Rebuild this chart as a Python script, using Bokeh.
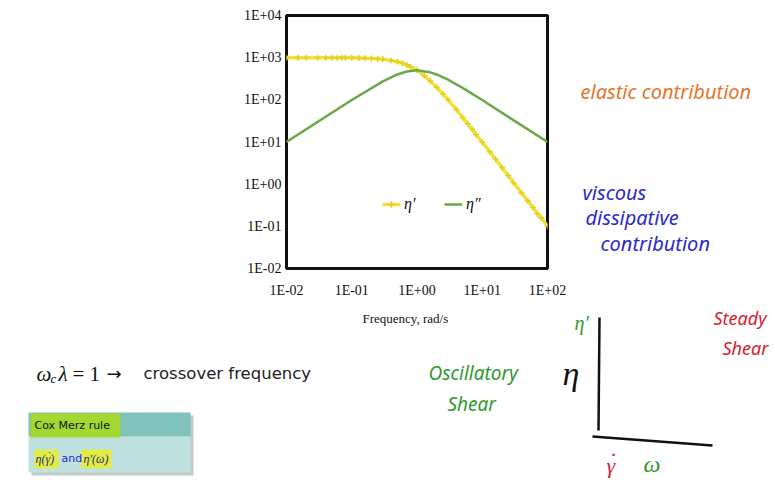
from bokeh.plotting import figure
from bokeh.models import (FixedTicker, CustomJSTickFormatter, Legend, LegendItem,
                          Range1d, Spacer)
from bokeh.layouts import row, column
from bokeh.core.properties import value
from bokeh.embed import file_html
from bokeh.resources import INLINE

# ---- data ----
omega_p = [0.01, 0.015, 0.02, 0.03, 0.04, 0.05, 0.06, 0.07, 0.08, 0.1, 0.13, 0.16,
           0.2, 0.25, 0.3, 0.4, 0.5, 0.6, 0.7, 0.8, 1.0, 1.3, 1.6, 2.0, 2.5, 3.0,
           4.0, 5.0, 6.0, 7.0, 8.0, 10, 13, 16, 20, 25, 30, 40, 50, 60, 70, 80, 100]
eta_p = [1000, 1000, 1000, 999, 998, 998, 996, 995, 994, 990, 983, 975,
         962, 941, 917, 862, 800, 735, 671, 610, 500, 372, 281, 200, 138, 100,
         59, 38, 27, 20, 15, 9.9, 5.9, 3.9, 2.5, 1.6, 1.1, 0.62, 0.40, 0.28, 0.20, 0.16, 0.10]
omega_pp = [0.01, 0.1, 0.3, 0.5, 0.7, 1.0, 1.5, 2.0, 3.0, 5.0, 10, 30, 100]
eta_pp = [10, 99, 275, 400, 470, 500, 460, 400, 300, 192, 99, 33, 10]

tick_vals_y = [0.01, 0.1, 1, 10, 100, 1000, 10000]
tick_labels_y = ["1E-02", "1E-01", "1E+00", "1E+01", "1E+02", "1E+03", "1E+04"]
tick_vals_x = [0.01, 0.1, 1, 10, 100]
tick_labels_x = ["1E-02", "1E-01", "1E+00", "1E+01", "1E+02"]
legend_labels = ["\u03b7\u2032", "\u03b7\u2033"]
x_title = "Frequency, rad/s"

YELLOW = "#f3e03c"
GREEN = "#6aa84a"

# ---------------- chart ----------------
p = figure(width=340, height=300, x_axis_type="log", y_axis_type="log",
           x_range=(0.01, 100), y_range=(0.01, 10000),
           output_backend="svg", toolbar_location=None,
           min_border_left=48, min_border_right=31,
           min_border_top=15, min_border_bottom=32)
p.background_fill_color = "white"
p.border_fill_color = "white"
p.outline_line_color = "#111111"
p.outline_line_width = 3
p.xgrid.grid_line_color = None
p.ygrid.grid_line_color = None

fmt_code = """
const i = tvals.findIndex(t => Math.abs(Math.log10(t) - Math.log10(tick)) < 1e-6);
return i >= 0 ? tlabels[i] : '';
"""
for ax, tv, tl, standoff in ((p.xaxis[0], tick_vals_x, tick_labels_x, 14),
                             (p.yaxis[0], tick_vals_y, tick_labels_y, 5)):
    ax.ticker = FixedTicker(ticks=tv, minor_ticks=[])
    ax.formatter = CustomJSTickFormatter(args=dict(tvals=tv, tlabels=tl), code=fmt_code)
    ax.major_tick_line_color = None
    ax.minor_tick_line_color = None
    ax.major_tick_out = 0
    ax.minor_tick_out = 0
    ax.axis_line_color = None
    ax.major_label_text_font = "Liberation Serif"
    ax.major_label_text_font_size = "14px"
    ax.major_label_text_color = "#111111"
    ax.major_label_standoff = standoff

l1 = p.line(omega_p, eta_p, line_color=YELLOW, line_width=3.5)
s1 = p.scatter(omega_p, eta_p, marker="cross", size=6, line_color="#e6d020", line_width=1.5)
l2 = p.line(omega_pp, eta_pp, line_color=GREEN, line_width=2.5)

legend = Legend(items=[LegendItem(label=legend_labels[0], renderers=[l1, s1]),
                       LegendItem(label=legend_labels[1], renderers=[l2])],
                orientation="horizontal", location=(96, 54),
                border_line_color=None, background_fill_alpha=0,
                label_text_font="Liberation Serif", label_text_font_style="italic",
                label_text_font_size="16px", label_text_color="#111111",
                glyph_width=18, spacing=20, padding=0, label_standoff=4)
p.add_layout(legend, "center")


def canvas(w, h):
    f = figure(width=w, height=h, x_range=Range1d(0, w), y_range=Range1d(h, 0),
               x_axis_type=None, y_axis_type=None, toolbar_location=None,
               output_backend="svg", min_border=0)
    f.outline_line_color = None
    f.background_fill_color = "white"
    f.border_fill_color = "white"
    return f


def txt(f, x, y, t, color="#111111", size="13px", font="Liberation Serif",
        style="normal", align="left"):
    f.text(x=[x], y=[y], text=[t], text_color=color, text_font_size=size,
           text_font=value(font), text_font_style=style, text_baseline="middle",
           text_align=align)


# ---------------- right notes ----------------
OR = "#e6752c"
BL = "#2a2ac8"
r = canvas(197, 300)   # page x 578..775, y 0..300
txt(r, 2, 90, "elastic contribution", OR, "20px", "Noto Sans", "italic")
txt(r, 4, 210, "viscous", BL, "20px", "Noto Sans", "italic")
txt(r, 7, 240, "dissipative", BL, "20px", "Noto Sans", "italic")
txt(r, 22, 270, "contribution", BL, "20px", "Noto Sans", "italic")

# ---------------- bottom ----------------
GR = "#2e9a2e"
RD = "#d82030"
b = canvas(775, 187)   # page y 300..487
txt(b, 362, 18, x_title, size="13px")
# omega_c lambda = 1 -> crossover frequency
txt(b, 36, 73, "\u03c9", size="21px", style="italic")
txt(b, 50, 78, "c", size="13px", style="italic")
txt(b, 58, 73, "\u03bb", size="21px", style="italic")
txt(b, 72, 73, "= 1", size="21px")
txt(b, 106, 73, "\u2192", size="18px", font="DejaVu Sans")
txt(b, 143, 73, "crossover frequency", "#222222", "16.5px", "DejaVu Sans")
# Cox-Merz box
b.quad(left=[31], right=[193], top=[115], bottom=[175], fill_color="#9aa6a6",
       fill_alpha=0.6, line_color=None)
b.quad(left=[28], right=[190], top=[112], bottom=[136], fill_color="#80c3bd",
       line_color=None)
b.quad(left=[28], right=[190], top=[136], bottom=[172], fill_color="#bfe1e0",
       line_color=None)
b.quad(left=[30], right=[120], top=[113], bottom=[137], fill_color="#a8dc18",
       fill_alpha=0.85, line_color=None)
b.quad(left=[34], right=[58], top=[149], bottom=[168], fill_color="#e4f030",
       fill_alpha=0.9, line_color=None)
b.quad(left=[81], right=[111], top=[149], bottom=[168], fill_color="#e4f030",
       fill_alpha=0.9, line_color=None)
txt(b, 34, 125, "Cox Merz rule", size="11px", font="DejaVu Sans")
txt(b, 35, 158, "\u03b7(\u03b3)", "#2a2a8a", "12px", "Liberation Serif", "italic")
txt(b, 47, 155, "\u02d9", "#2a2a8a", "12px", "Liberation Serif")
txt(b, 61, 158, "and", "#2a2ac8", "11px", "DejaVu Sans")
txt(b, 83, 158, "\u03b7\u2032(\u03c9)", "#2a2a8a", "12px", "Liberation Serif", "italic")
# handwritten notes
txt(b, 428, 72, "Oscillatory", GR, "19px", "Noto Sans", "italic")
txt(b, 447, 103, "Shear", GR, "19px", "Noto Sans", "italic")
txt(b, 713, 17, "Steady", RD, "18px", "Noto Sans", "italic")
txt(b, 722, 47, "Shear", RD, "18px", "Noto Sans", "italic")
# sketch
txt(b, 562, 73, "\u03b7", size="34px", style="italic")
txt(b, 574, 22, "\u03b7\u2032", GR, "20px", "Liberation Serif", "italic")
txt(b, 606, 165, "\u03b3", RD, "22px", "Liberation Serif", "italic")
txt(b, 609, 160, "\u02d9", RD, "24px", "Liberation Serif")
txt(b, 643, 163, "\u03c9", GR, "24px", "Liberation Serif", "italic")
b.line(x=[599, 598], y=[17, 130], line_color="#111111", line_width=2.5)
b.line(x=[592, 712], y=[136, 145], line_color="#111111", line_width=2.5)

top = row(Spacer(width=238, height=300), p, r)
layout = column(top, b)

open("out.html", "w").write(file_html(layout, INLINE))
